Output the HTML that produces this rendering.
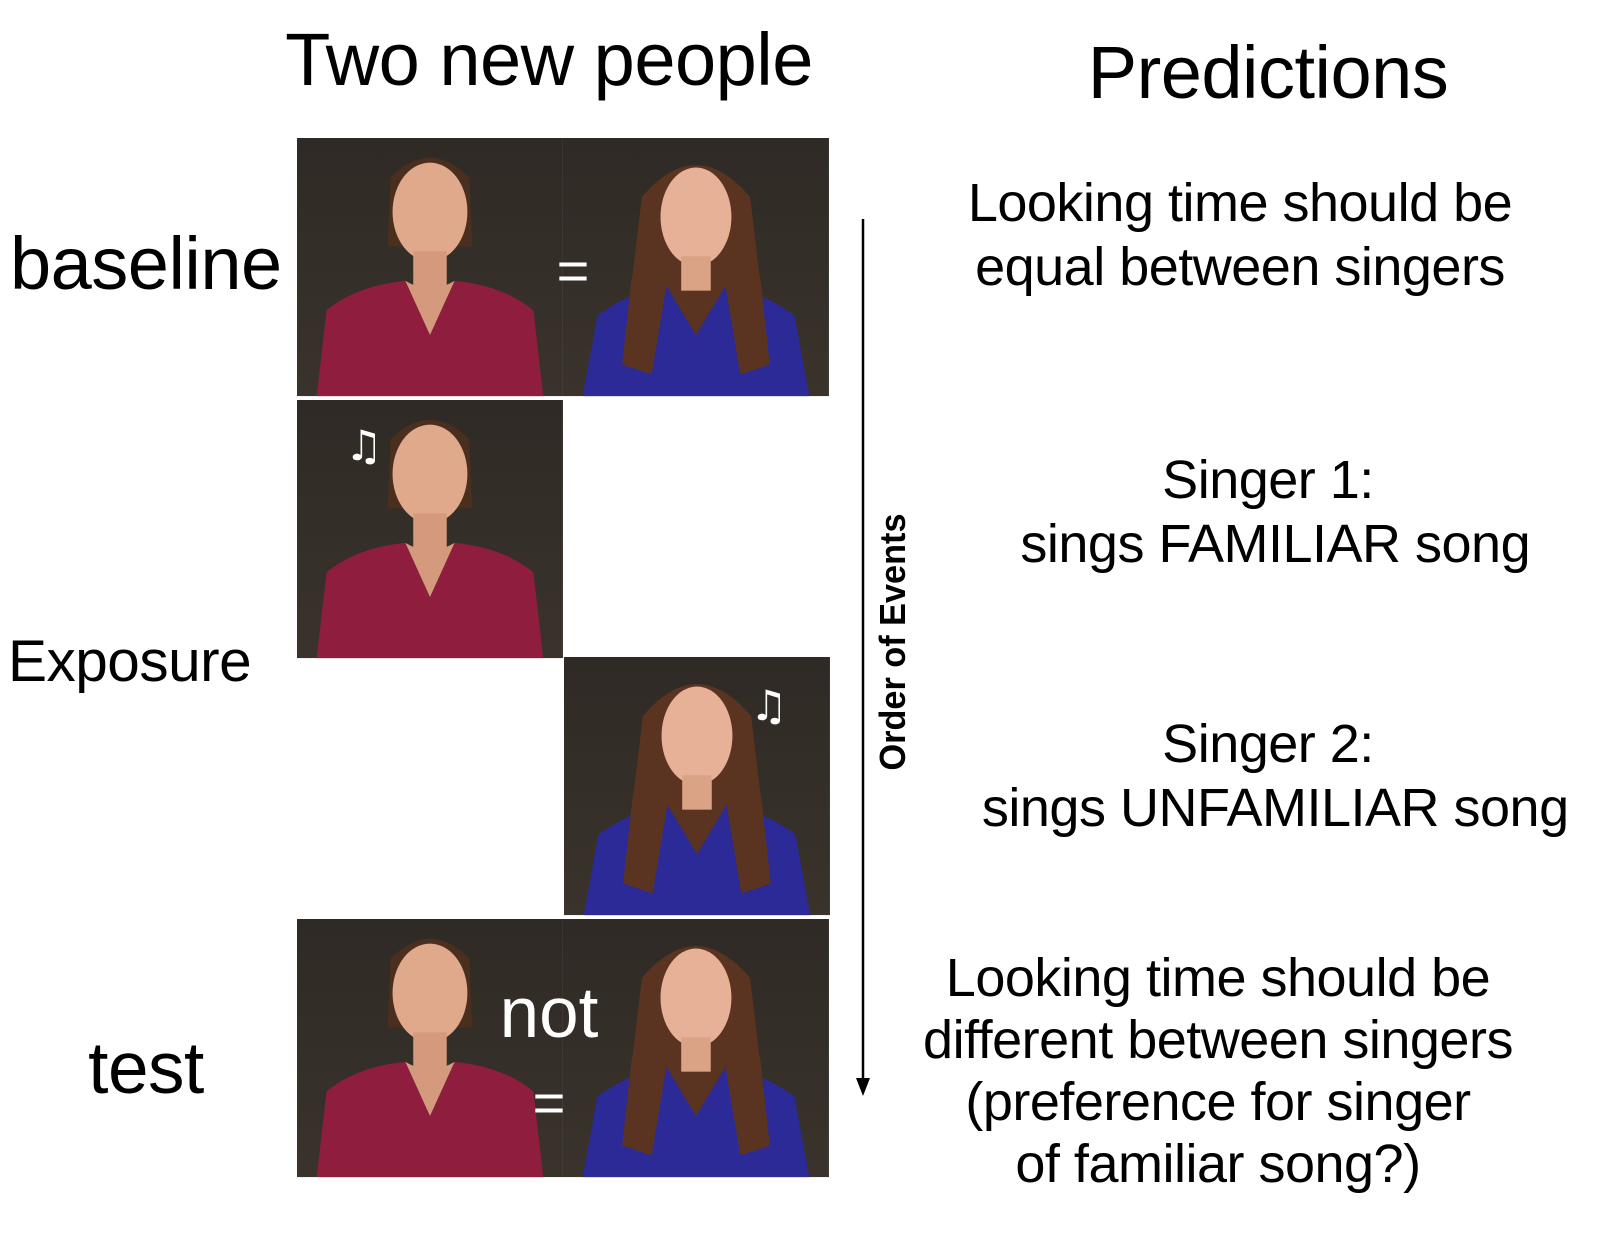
<!DOCTYPE html>
<html><head><meta charset="utf-8">
<style>
html,body{margin:0;padding:0;background:#fff;}
body{width:1610px;height:1258px;position:relative;overflow:hidden;font-family:"Liberation Sans",sans-serif;color:#000;}
.t{position:absolute;white-space:nowrap;font-weight:300;letter-spacing:-0.5px;}
.c{transform:translateX(-50%);text-align:center;}
svg{position:absolute;left:0;top:0;}
</style></head><body>
<svg width="1610" height="1258">
<defs>
<linearGradient id="bg" x1="0" y1="0" x2="0" y2="1"><stop offset="0" stop-color="#2f2a25"/><stop offset="1" stop-color="#3a332c"/></linearGradient>
<g id="p1">
<rect width="270" height="262" fill="url(#bg)"/>
<path d="M95 40 Q135 0 175 40 L178 110 L92 110 Z" fill="#4a2e1e"/>
<ellipse cx="135" cy="75" rx="38" ry="50" fill="#e0a98c"/>
<rect x="118" y="115" width="34" height="40" fill="#d59a7d"/>
<path d="M20 262 L30 175 Q60 150 110 145 L135 200 L160 145 Q210 150 240 175 L250 262 Z" fill="#8e1d3e"/>
<path d="M110 145 L135 200 L160 145 Q135 160 110 145Z" fill="#d59a7d"/>
</g>
<g id="p2">
<rect width="270" height="262" fill="url(#bg)"/>
<path d="M80 60 Q135 -5 190 60 L210 230 L60 230 Z" fill="#5a3420"/>
<ellipse cx="135" cy="80" rx="36" ry="50" fill="#e6b196"/>
<rect x="120" y="120" width="30" height="35" fill="#dba386"/>
<path d="M20 262 L35 180 Q70 155 105 150 L135 200 L165 150 Q200 155 235 180 L250 262 Z" fill="#2b2a96"/>
<path d="M70 140 L105 150 L90 240 L60 230Z M200 140 L165 150 L180 240 L210 230Z" fill="#5a3420"/>
</g>
</defs>
<g><use href="#p1" transform="translate(297,138) scale(0.985)"/><use href="#p2" transform="translate(563,138) scale(0.985)"/></g>
<g><use href="#p1" transform="translate(297,400) scale(0.985)"/><text x="345" y="460" fill="#fff" font-size="42" font-family="DejaVu Sans">♫</text></g>
<g><use href="#p2" transform="translate(564,657) scale(0.985)"/><text x="750" y="720" fill="#fff" font-size="42" font-family="DejaVu Sans">♫</text></g>
<g><use href="#p1" transform="translate(297,919) scale(0.985)"/><use href="#p2" transform="translate(563,919) scale(0.985)"/></g>
<text x="573" y="290" fill="#fff" font-size="56" font-family="Liberation Sans" text-anchor="middle">=</text>
<text x="549" y="1037" fill="#fff" font-size="71" font-family="Liberation Sans" text-anchor="middle">not</text>
<text x="549" y="1122" fill="#fff" font-size="56" font-family="Liberation Sans" text-anchor="middle">=</text>
<line x1="863" y1="219" x2="863" y2="1080" stroke="#000" stroke-width="2.5"/>
<path d="M856 1078 L870 1078 L863 1096 Z" fill="#000"/>
<text transform="translate(905,642) rotate(-90)" font-size="36" font-weight="bold" font-family="Liberation Sans Narrow, Liberation Sans" text-anchor="middle" textLength="257" lengthAdjust="spacingAndGlyphs">Order of Events</text>
</svg>
<div class="t c" style="left:549px;top:17px;font-size:74px">Two new people</div>
<div class="t c" style="left:1268px;top:30px;font-size:74px">Predictions</div>
<div class="t" style="left:10px;top:221px;font-size:74px">baseline</div>
<div class="t" style="left:8px;top:628px;font-size:58.5px">Exposure</div>
<div class="t c" style="left:146px;top:1027px;font-size:73px">test</div>
<div class="t c" style="left:1240px;top:171px;font-size:54px;line-height:64px">Looking time should be<br>equal between singers</div>
<div class="t c" style="left:1268px;top:448px;font-size:54px;line-height:64px">Singer 1:<br>&nbsp;sings FAMILIAR song</div>
<div class="t c" style="left:1268px;top:712px;font-size:54px;line-height:64px">Singer 2:<br>&nbsp;sings UNFAMILIAR song</div>
<div class="t c" style="left:1218px;top:947px;font-size:54px;line-height:62px">Looking time should be<br>different between singers<br>(preference for singer<br>of familiar song?)</div>
</body></html>
